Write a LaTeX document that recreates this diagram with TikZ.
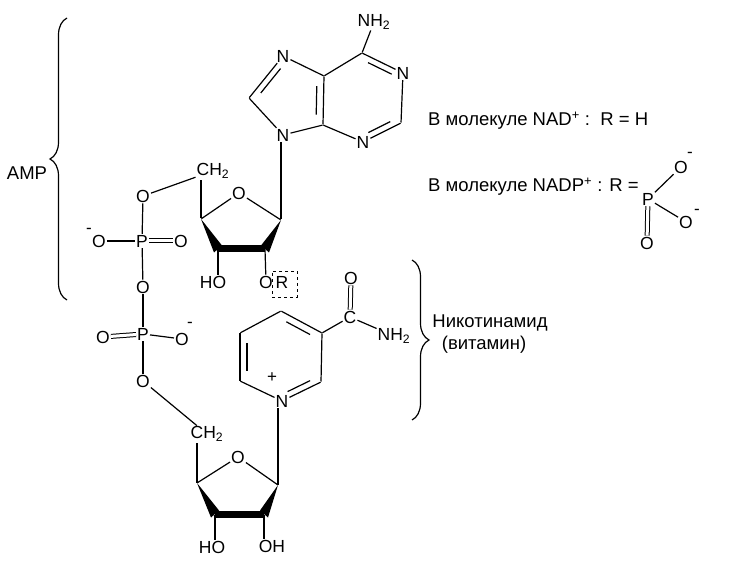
\documentclass[tikz,border=0pt]{standalone}
\usepackage{fontspec}
\setmainfont{Liberation Sans}
\usetikzlibrary{calc,decorations.pathreplacing}
\tikzset{
	atom/.style={font=\fontsize{17.5}{20}\selectfont,inner sep=0.5pt},
	charge/.style={font=\fontsize{17}{20}\selectfont,inner sep=0pt},
	caption/.style={font=\fontsize{18.5}{22}\selectfont,inner sep=0pt},
	bond/.style={line width=1.2pt,shorten >=0.5pt,shorten <=0.5pt},
	twobond/.style={bond,double,double distance=3pt,line width=1pt},
	curly/.style={line width=1.2pt,decorate,decoration={brace,amplitude=17pt}}
}
\newcommand{\dblbond}[3]{
	\draw[bond] (#1) -- (#2);
	\draw[bond] ($(#1)!.2!(#2)!#3!90:(#2)$) -- ($(#2)!.2!(#1)!-#3!90:(#1)$);
}
\begin{document}
\begin{tikzpicture}[x=1pt,y=-1pt]
	\useasboundingbox (0,0) rectangle (729,588);
	% adenine
	\node[atom](nhtwo) at (374,22){NH\textsubscript{2}};
	\coordinate (csix) at (362,53);
	\node[atom](none) at (403,73){N};
	\coordinate (ctwo) at (401,123);
	\node[atom](nthree) at (363,142){N};
	\coordinate (cfour) at (323,125);
	\coordinate (cfive) at (324,76);
	\node[atom](nseven) at (283,56){N};
	\coordinate (ceight) at (249,98);
	\node[atom](nnine) at (283,135){N};
	\foreach \a/\b in {nhtwo/csix,csix/cfive,none/ctwo,nthree/cfour,cfive/nseven,ceight/nnine,nnine/cfour}
		\draw[bond] (\a) -- (\b);
	\dblbond{csix}{none}{-6pt}
	\dblbond{nthree}{ctwo}{6pt}
	\dblbond{cfive}{cfour}{-7pt}
	\dblbond{nseven}{ceight}{6pt}
	% upper ribose
	\node[atom](chup) at (213,171){CH\textsubscript{2}};
	\node[atom](oup) at (239,193){O};
	\coordinate (cfourup) at (201,219);
	\coordinate (cthreeup) at (218,249);
	\coordinate (ctwoup) at (265,249);
	\coordinate (coneup) at (281,220);
	\node[atom](houp) at (213,282){HO};
	\node[atom](orup) at (266,282){O};
	\node[atom,inner sep=0pt](rup) at (282,282){R};
	\node[draw,dashed,line width=0.8pt,minimum width=25pt,minimum height=26pt,inner sep=0pt](rbox) at (284.5,284){};
	\draw[bond] (cfourup) -- (oup);
	\draw[bond] (oup) -- (coneup);
	\draw[bond] (cfourup) -- (cfourup |- chup.south);
	\draw[bond] (coneup) -- (coneup |- nnine.south);
	\draw[bond] (cthreeup) -- (cthreeup |- houp.north);
	\draw[bond] (ctwoup) -- (orup);
	\fill (cfourup) -- ($(cthreeup)+(-4,3.5)$) -- ($(cthreeup)+(4,-3.5)$) -- cycle;
	\fill (coneup) -- ($(ctwoup)+(4,3.5)$) -- ($(ctwoup)+(-4,-3.5)$) -- cycle;
	\draw[line width=7pt] (cthreeup) -- (ctwoup);
	% phosphates
	\node[atom](otop) at (143,196){O};
	\node[atom](pone) at (142,241){P};
	\node[atom](ominus) at (99,241){O};
	\node[charge](mone) at (89,231){-};
	\node[atom](oeq) at (181,241){O};
	\node[atom](omid) at (143,287){O};
	\node[atom](ptwo) at (143,334){P};
	\node[atom](oeqb) at (103,337){O};
	\node[atom](ominb) at (182,339){O};
	\node[charge](mtwo) at (190,325){-};
	\node[atom](olow) at (143,381){O};
	\foreach \a/\b in {chup/otop,otop/pone,pone/ominus,pone/omid,omid/ptwo,ptwo/ominb,ptwo/olow}
		\draw[bond] (\a) -- (\b);
	\draw[twobond] (pone) -- (oeq);
	\draw[twobond] (ptwo) -- (oeqb);
	% nicotinamide
	\node[atom](npy) at (282,401){N};
	\coordinate (pa) at (240,381);
	\coordinate (pb) at (240,333);
	\coordinate (pc) at (281,311);
	\coordinate (pd) at (322,333);
	\coordinate (pe) at (321,382);
	\node[charge](plus) at (272,378){+};
	\node[atom](camide) at (350,317){C};
	\node[atom](oamide) at (351,278){O};
	\node[atom](namide) at (394,336){NH\textsubscript{2}};
	\foreach \a/\b in {npy/pa,pb/pc,pd/pe,pd/camide,camide/namide}
		\draw[bond] (\a) -- (\b);
	\dblbond{pa}{pb}{-7pt}
	\dblbond{pc}{pd}{-7pt}
	\dblbond{pe}{npy}{-6pt}
	\draw[twobond] (camide) -- (oamide);
	% lower ribose
	\node[atom](chlow) at (207,434){CH\textsubscript{2}};
	\node[atom](olowr) at (238,457){O};
	\coordinate (cfourlow) at (197,483);
	\coordinate (cthreelow) at (215,514);
	\coordinate (ctwolow) at (264,514);
	\coordinate (conelow) at (278,485);
	\node[atom](holow) at (212,547){HO};
	\node[atom](ohlow) at (272,546){OH};
	\draw[bond] (olow) -- (chlow);
	\draw[bond] (cfourlow) -- (olowr);
	\draw[bond] (olowr) -- (conelow);
	\draw[bond] (cfourlow) -- (cfourlow |- chlow.south);
	\draw[bond] (conelow) -- (conelow |- npy.south);
	\draw[bond] (cthreelow) -- (cthreelow |- holow.north);
	\draw[bond] (ctwolow) -- (ctwolow |- ohlow.north);
	\fill (cfourlow) -- ($(cthreelow)+(-4,3.5)$) -- ($(cthreelow)+(4,-3.5)$) -- cycle;
	\fill (conelow) -- ($(ctwolow)+(4,3.5)$) -- ($(ctwolow)+(-4,-3.5)$) -- cycle;
	\draw[line width=7pt] (cthreelow) -- (ctwolow);
	% braces and captions
	\coordinate (ampa) at (67,18);
	\coordinate (ampb) at (67,300);
	\coordinate (nama) at (412,260);
	\coordinate (namb) at (412,420);
	\draw[curly] (ampb) -- (ampa);
	\draw[curly] (nama) -- (namb);
	\node[caption](amp) at (27,173){AMP};
	\node[caption](namname) at (490,323){Никотинамид};
	\node[caption](namnote) at (484,345){(витамин)};
	\node[caption,anchor=west](nadline) at (428,121){В молекуле NAD\textsuperscript{+} :\ \ R = H};
	\node[caption,anchor=west](nadpline) at (428,187){В молекуле NADP\textsuperscript{+} : R =};
	% phosphate group
	\node[atom](pr) at (648,199){P};
	\node[atom](ora) at (681,167){O};
	\node[charge](mra) at (690,155){-};
	\node[atom](orb) at (686,222){O};
	\node[charge](mrb) at (697,212){-};
	\node[atom](orc) at (647,243){O};
	\draw[bond] (pr) -- (ora);
	\draw[bond] (pr) -- (orb);
	\draw[twobond] (pr) -- (orc);
\end{tikzpicture}
\end{document}
